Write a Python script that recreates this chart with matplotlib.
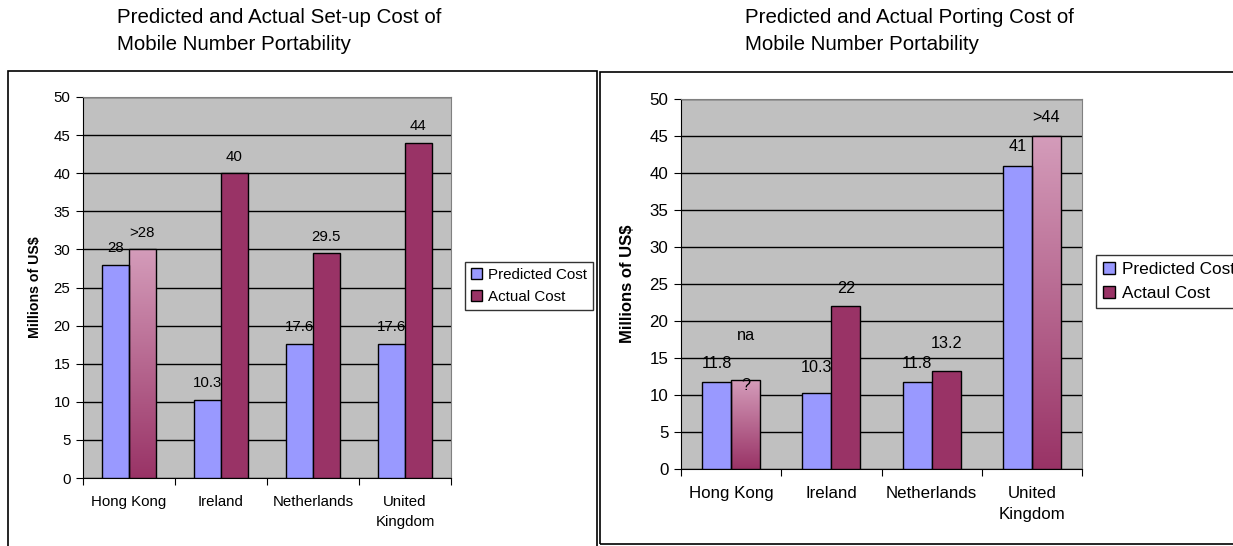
import numpy as np
import matplotlib
matplotlib.use("Agg")
import matplotlib.pyplot as plt
from matplotlib.patches import Rectangle, Patch
from matplotlib.colors import LinearSegmentedColormap

plt.rcParams['font.family'] = ['Liberation Sans', 'DejaVu Sans']

# ---------------- data ----------------
categories = ["Hong Kong", "Ireland", "Netherlands", "United\nKingdom"]

setup_predicted = [28, 10.3, 17.6, 17.6]
setup_actual = [30, 40, 29.5, 44]
setup_pred_labels = ["28", "10.3", "17.6", "17.6"]
setup_act_labels = [">28", "40", "29.5", "44"]
setup_act_uncertain = [True, False, False, False]

port_predicted = [11.8, 10.3, 11.8, 41]
port_actual = [12, 22, 13.2, 45]
port_pred_labels = ["11.8", "10.3", "11.8", "41"]
port_act_labels = ["na", "22", "13.2", ">44"]
port_act_uncertain = [True, False, False, True]

title_left = "Predicted and Actual Set-up Cost of\nMobile Number Portability"
title_right = "Predicted and Actual Porting Cost of\nMobile Number Portability"
ylabel = "Millions of US$"
legend_left = ["Predicted Cost", "Actual Cost"]
legend_right = ["Predicted Cost", "Actaul Cost"]

# ---------------- style ----------------
C_PRED = "#9999FF"
C_ACT = "#993366"
C_BG = "#C0C0C0"
grad_cmap = LinearSegmentedColormap.from_list("g", [C_ACT, "#D49CBA"])

W, H = 1233, 546
fig = plt.figure(figsize=(W / 100, H / 100), dpi=100)


def fx(px):
    return px / W


def fy(py):
    return 1 - py / H


def draw_chart(ax, pred, act, pl, al, unc, fs_tick, fs_lab, fs_ylab, width,
               ylab_x, off_pred=None, off_act=None):
    n = len(categories)
    x = np.arange(n)
    ax.set_facecolor(C_BG)
    ax.set_yticks(np.arange(0, 51, 5))
    ax.yaxis.grid(True, color="black", linewidth=1)
    ax.set_axisbelow(True)
    for s in ["top", "right"]:
        ax.spines[s].set_color("#808080")
    for s in ["left", "bottom"]:
        ax.spines[s].set_color("black")
    ax.set_xticks(np.arange(-0.5, n, 1.0))
    ax.set_xticklabels([])
    ax.set_xticks(x, minor=True)
    ax.set_xticklabels(categories, minor=True, fontsize=fs_tick, linespacing=1.55)
    ax.tick_params(axis="x", which="minor", length=0, pad=12)
    ax.tick_params(axis="x", which="major", length=5, direction="out")
    ax.tick_params(axis="y", length=5, labelsize=fs_tick, pad=4)
    ax.set_ylabel(ylabel, fontweight="bold", fontsize=fs_ylab)
    ax.yaxis.set_label_coords(ylab_x, 0.5)
    ax.yaxis.label.set_verticalalignment("center")

    bp = ax.bar(x - width / 2, pred, width, color=C_PRED, edgecolor="black", linewidth=1, zorder=3)
    ba = ax.bar(x + width / 2, act, width, color=C_ACT, edgecolor="black", linewidth=1, zorder=3)
    grad = np.linspace(1, 0, 256).reshape(-1, 1)
    for i, b in enumerate(ba):
        if unc[i]:
            b.set_facecolor("none")
            x0, w, h = b.get_x(), b.get_width(), b.get_height()
            ax.imshow(grad, cmap=grad_cmap, aspect="auto",
                      extent=[x0, x0 + w, 0, h], zorder=2.9, origin="upper")
    ax.set_xlim(-0.5, n - 0.5)
    ax.set_ylim(0, 50)

    for bars, labels, offs in ((bp, pl, off_pred), (ba, al, off_act)):
        for i, b in enumerate(bars):
            dy = 12 if offs is None else offs[i]
            ax.annotate(labels[i], (b.get_x() + b.get_width() / 2, b.get_height()),
                        xytext=(0, dy), textcoords="offset points", ha="center",
                        va="center", fontsize=fs_lab, zorder=5)
    return ba


# left chart
axL = fig.add_axes([fx(83), fy(478), fx(451 - 83), fy(97) - fy(478)])
draw_chart(axL, setup_predicted, setup_actual, setup_pred_labels, setup_act_labels,
           setup_act_uncertain, 10.8, 10.8, 10.2, 0.29, (35 - 83) / 368)

# right chart
axR = fig.add_axes([fx(681), fy(469), fx(1082 - 681), fy(99) - fy(469)])
baR = draw_chart(axR, port_predicted, port_actual, port_pred_labels, port_act_labels,
                 port_act_uncertain, 12.2, 11.7, 12.0, 0.29, (628 - 681) / 401,
                 off_pred=[13, 18, 13, 13.5], off_act=[32, 13, 20, 13.5])
# "?" inside the Hong Kong actual bar
b0 = baR[0]
axR.annotate("?", (b0.get_x() + b0.get_width() / 2, b0.get_height()),
             xytext=(0, -4), textcoords="offset points", ha="center", va="center",
             fontsize=11.7, zorder=5)

# titles
fig.text(fx(117), fy(31), title_left, ha="left", va="center", fontsize=14.8, linespacing=1.5)
fig.text(fx(745), fy(31), title_right, ha="left", va="center", fontsize=14.8, linespacing=1.5)

# panel borders
fig.add_artist(Rectangle((fx(8), -0.05), fx(597 - 8), fy(71) + 0.05, transform=fig.transFigure,
                         fill=False, edgecolor="black", linewidth=1.2))
fig.add_artist(Rectangle((fx(600), fy(544)), fx(700), fy(72) - fy(544), transform=fig.transFigure,
                         fill=False, edgecolor="black", linewidth=1.2))

# legends
hl = [Patch(facecolor=C_PRED, edgecolor="black"), Patch(facecolor=C_ACT, edgecolor="black")]
fig.legend(hl, legend_left, loc="upper left", bbox_to_anchor=(fx(465), fy(262)),
           fontsize=10.9, frameon=True, fancybox=False, edgecolor="black",
           handlelength=0.7, handleheight=0.7, handletextpad=0.4, borderpad=0.4,
           labelspacing=0.5, borderaxespad=0).get_frame().set_linewidth(1)
fig.legend(hl, legend_right, loc="upper left", bbox_to_anchor=(fx(1096), fy(255)),
           fontsize=12.4, frameon=True, fancybox=False, edgecolor="black",
           handlelength=0.7, handleheight=0.7, handletextpad=0.4, borderpad=0.4,
           labelspacing=0.5, borderaxespad=0).get_frame().set_linewidth(1)

fig.savefig("out.png", dpi=100)
